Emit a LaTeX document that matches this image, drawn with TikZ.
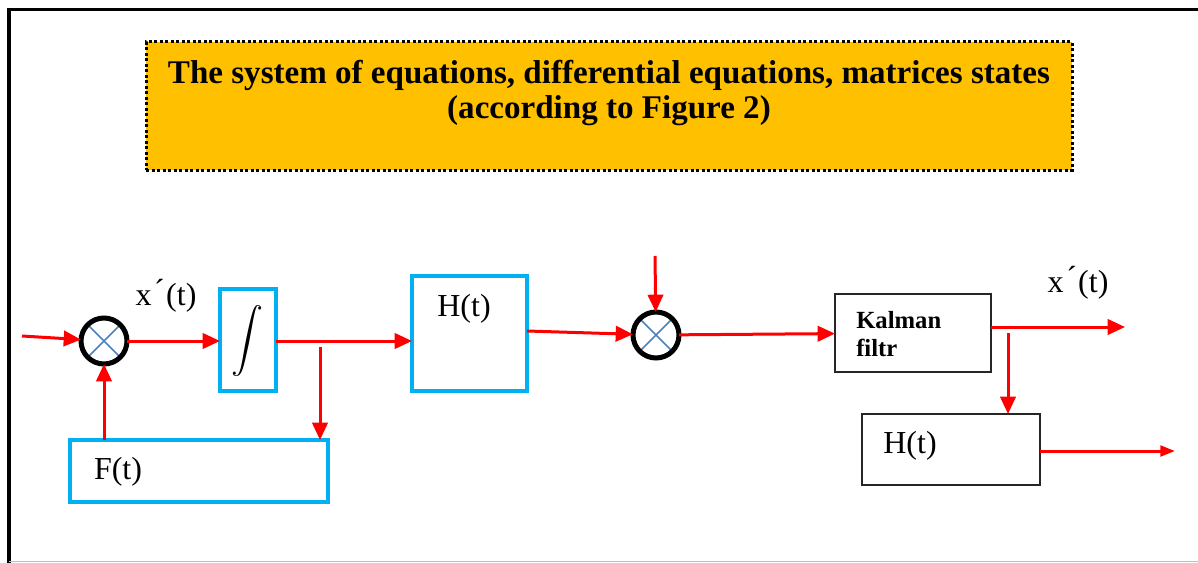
\documentclass[tikz,border=0pt]{standalone}
\usepackage{fontspec}
\usepackage{graphicx}
\setmainfont{Liberation Serif}
\usetikzlibrary{arrows.meta}
\definecolor{redc}{HTML}{FF0000}
\definecolor{cyanc}{HTML}{00B0F0}
\definecolor{crossc}{HTML}{4F81BD}
\definecolor{orangec}{HTML}{FFC000}
\begin{document}
\begin{tikzpicture}[x=0.75pt,y=-0.75pt,
  arr/.style={draw=redc,line width=3*0.75pt,-{Triangle[length=13pt,width=11.5pt]}},
  arrthin/.style={draw=redc,line width=3*0.75pt,-{Triangle[length=11pt,width=8pt]}},
  bluebox/.style={draw=cyanc,line width=3.5*0.75pt,inner sep=0pt,outer sep=0pt},
  blackbox/.style={draw=black!85,line width=1.3*0.75pt,inner sep=0pt,outer sep=0pt},
  lbl/.style={font=\fontsize{24}{26}\selectfont,inner sep=0pt},
  sumj/.style={circle,draw=black,line width=5*0.75pt,minimum size=46*0.75pt,inner sep=0pt,outer sep=0pt,
    path picture={\draw[crossc,line width=1.6*0.75pt]
      (path picture bounding box.north west) -- (path picture bounding box.south east)
      (path picture bounding box.north east) -- (path picture bounding box.south west);}},
  titlebox/.style={fill=orangec,draw=black,line width=3*0.75pt,dash pattern=on 3*0.75pt off 2.5*0.75pt,
    inner sep=0pt},
  titletext/.style={inner sep=0pt,align=center,font=\bfseries\fontsize{24.8}{26.5}\selectfont}
]
\useasboundingbox (0,0) rectangle (1198,563);
% outer frame
\draw[black,line width=3.5*0.75pt] (9,563) -- (9,9.5) -- (1198,9.5);
\draw[black!25,line width=1*0.75pt] (9,561.5) -- (1198,561.5);
% title
\node[titlebox,minimum width=926*0.75pt,minimum height=128*0.75pt] (title) at (609,106) {};
\node[titletext] (titlet) at (609,93)
  {The system of equations, differential equations, matrices states\\(according to Figure 2)};
% blocks
\node[sumj] (s1) at (104,341) {};
\node[bluebox,minimum width=56*0.75pt,minimum height=102*0.75pt] (integ) at (248,340) {};
\node[inner sep=0pt] (intsign) at (247,341) {\scalebox{2.4}{$\displaystyle\int$}};
\node[bluebox,minimum width=115*0.75pt,minimum height=115*0.75pt] (H1) at (469.5,333.5) {};
\node[lbl] (H1t) at (464,309) {H(t)};
\node[bluebox,minimum width=258*0.75pt,minimum height=62*0.75pt] (F) at (199,471) {};
\node[lbl] (Ft) at (118,472) {F(t)};
\node[sumj] (s2) at (656,335) {};
\node[blackbox,minimum width=156*0.75pt,minimum height=78*0.75pt] (K) at (913,333) {};
\node[inner sep=0pt,anchor=west,align=left,font=\bfseries\fontsize{18.5}{21}\selectfont] (Kt) at (856,334) {Kalman\\filtr};
\node[blackbox,minimum width=178*0.75pt,minimum height=71*0.75pt] (H2) at (951,449.5) {};
\node[lbl] (H2t) at (910,446) {H(t)};
\node[lbl] (xl1) at (166,296) {x\hspace{2pt}\raisebox{3pt}{´}\hspace{1pt}(t)};
\node[lbl] (xl2) at (1078,283) {x\hspace{2pt}\raisebox{3pt}{´}\hspace{1pt}(t)};
% free ends
\coordinate (in) at (22,336);
\coordinate (br) at (320,347);
\coordinate (tin) at (655,256);
\coordinate (kout) at (1125,327);
\coordinate (br2) at (1008,333);
\coordinate (hout) at (1175,451);
% connectors
\draw[arr] (in) -- (s1);
\draw[arr] (s1.east) -- (s1.east -| integ.west);
\draw[arr] (integ.east |- s1) -- (s1 -| H1.west);
\draw[arr] (br) -- (br |- F.north);
\draw[arr] (F.north -| s1) -- (s1);
\draw[arr] (H1.east |- 0,331) -- (s2);
\draw[arr] (tin) -- (s2);
\draw[arr] (s2) -- (K);
\draw[arr] (K.east |- kout) -- (kout);
\draw[arr] (br2) -- (br2 |- H2.north);
\draw[arrthin] (H2.east |- hout) -- (hout);
\end{tikzpicture}
\end{document}
